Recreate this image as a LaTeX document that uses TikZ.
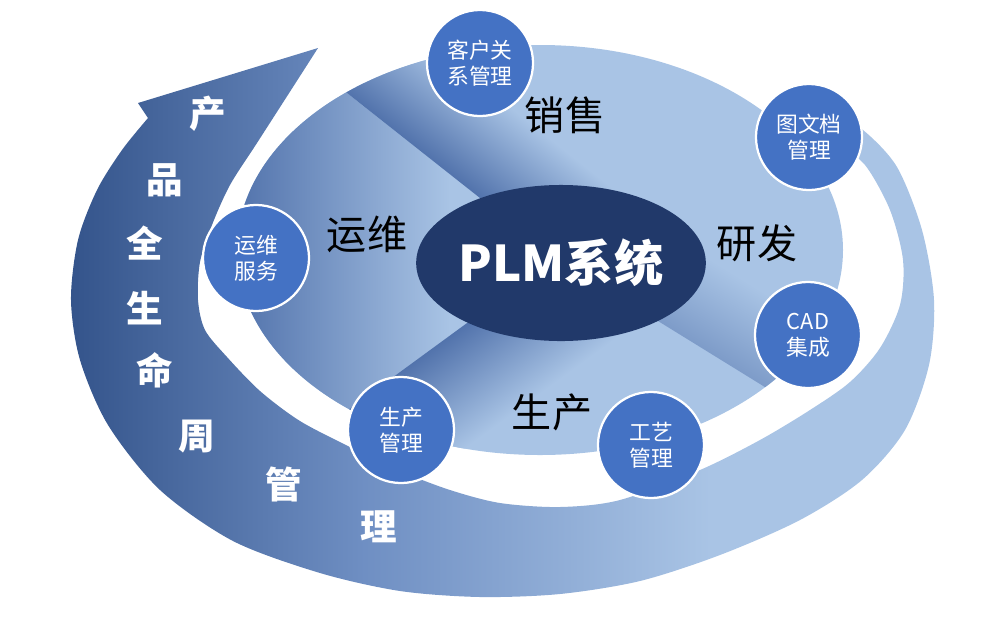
\documentclass[tikz,border=0pt]{standalone}
\usepackage{fontspec}
\setmainfont{Noto Sans CJK SC}
\usetikzlibrary{shapes.geometric}
\definecolor{bandDark}{HTML}{34548B}
\definecolor{bandMid}{HTML}{6F8FC3}
\definecolor{bandLight}{HTML}{A9C4E5}
\definecolor{secLight}{HTML}{A9C4E5}
\definecolor{secDark}{HTML}{5273AC}
\definecolor{dotBlue}{HTML}{4472C4}
\definecolor{coreNavy}{HTML}{21396A}
\pgfdeclarehorizontalshading{bandfade}{100bp}{color(0bp)=(bandDark); color(25bp)=(bandDark); color(42bp)=(bandMid); color(62bp)=(bandLight); color(100bp)=(bandLight)}
\tikzset{
  module/.style={circle, fill=dotBlue, draw=white, line width=1.6pt, minimum size=26.5mm, inner sep=0pt,
    text=white, align=center, font=\fontsize{15.5}{18.5}\selectfont},
  sector/.style={font=\fontsize{28.5}{30}\selectfont, text=black},
  lifeword/.style={font=\bfseries\fontsize{26}{26}\selectfont, text=white},
}
\begin{document}
\begin{tikzpicture}[x=0.025cm, y=-0.025cm]
	\useasboundingbox (0,0) rectangle (1000,634);
	\coordinate (C) at (556,258);
	% spiral band with its arrow head
	\shade[shading=bandfade]
		plot[smooth] coordinates {(830,112) (863,130) (897,167) (922,230) (934,300) (929,365) (905,430) (862,480) (800,520) (720,555) (640,581) (560,594) (480,597) (400,591) (320,573) (233,541) (160,490) (108,425) (80,360) (71,300) (78,240) (97,190) (122,150) (148,118)}
		-- (138,103) -- (318,48)
		-- plot[smooth] coordinates {(318,48) (293,87) (257,143) (230,185) (212,225) (200,262) (198,300) (205,330) (227,357) (260,391) (300,421) (350,447) (400,471) (450,490) (500,503) (560,507) (620,500) (700,470) (760,440) (810,410) (850,382) (880,348) (900,305) (903,260) (890,210) (865,165) (835,142)}
		-- cycle;
	\begin{scope}
		\clip (540,250) ellipse [x radius=303, y radius=205];
		\fill[secLight] (200,30) rectangle (860,470);
		\begin{scope}
			\clip (C) -- (318,432) -- (150,432) -- (150,11) -- (243,11) -- cycle;
			\shade[left color=secDark, right color=secLight] (237,0) rectangle (450,500);
		\end{scope}
		\begin{scope}
			\clip (C) -- (243,11) -- (862,48) -- cycle;
			\begin{scope}[transform canvas={shift={(C)}, rotate=141.7}]
				\shade[top color=secDark, bottom color=secLight] (-20,0) rectangle (420,90);
			\end{scope}
		\end{scope}
		\begin{scope}
			\clip (C) -- (318,432) -- (318,520) -- (862,520) -- (862,447) -- cycle;
			\begin{scope}[transform canvas={shift={(C)}, rotate=216.1}]
				\shade[bottom color=secDark, top color=secLight] (-20,0) rectangle (420,-100);
			\end{scope}
		\end{scope}
		\begin{scope}
			\clip (C) -- (862,447) -- (900,447) -- (900,48) -- (862,48) -- cycle;
			\begin{scope}[transform canvas={shift={(C)}, rotate=-31.7}]
				\shade[bottom color=secDark!50!secLight, top color=secLight] (-20,0) rectangle (300,-80);
			\end{scope}
		\end{scope}
	\end{scope}
	\node[ellipse, fill=coreNavy, minimum width=64.5mm, minimum height=39mm, inner sep=0pt,
		text=white, font=\bfseries\fontsize{35}{35}\selectfont] (core) at (561,263) {PLM系统};
	\path
		(565,115) node[sector] (sales) {销售}
		(367,234) node[sector] (maint) {运维}
		(757,243) node[sector] (rnd) {研发}
		(552,412) node[sector] (make) {生产}
	;
	\node[module] (crm) at (480,63) {客户关\\系管理};
	\node[module] (docs) at (809,137) {图文档\\管理};
	\node[module] (cad) at (808,335) {CAD\\集成};
	\node[module] (craft) at (651,445) {工艺\\管理};
	\node[module] (prod) at (401,430) {生产\\管理};
	\node[module] (ops) at (256,258) {运维\\服务};
	\foreach \ch/\px/\py [count=\k] in {产/208/114, 品/165/180, 全/145/243, 生/145/308, 命/155/370, 周/197/437, 管/284/484, 理/379/527}
		\node[lifeword] (life\k) at (\px,\py) {\ch};
\end{tikzpicture}
\end{document}
